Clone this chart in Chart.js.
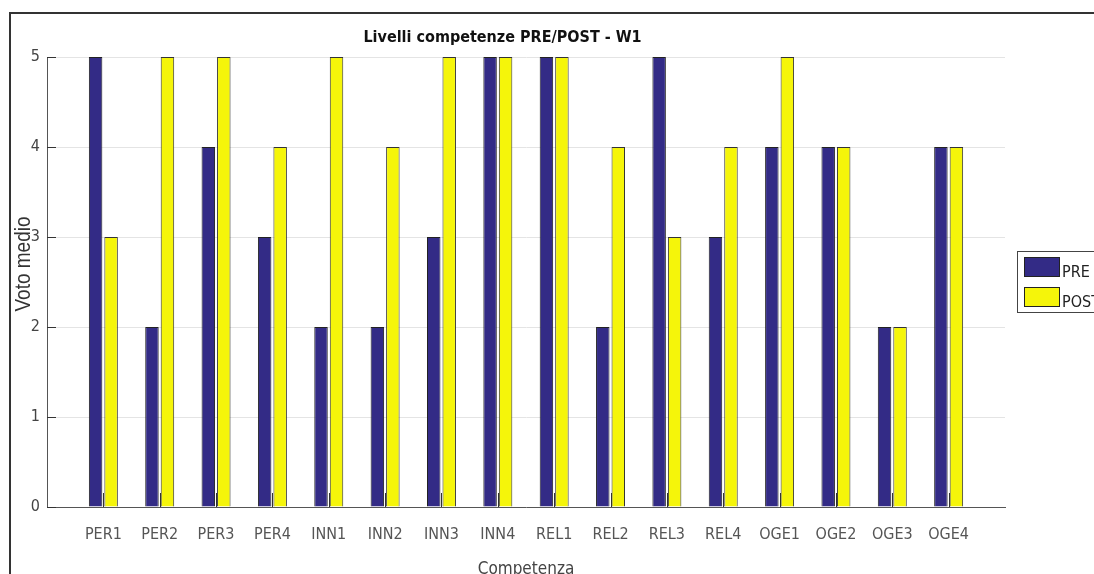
<!DOCTYPE html>
<html>
<head>
<meta charset="utf-8">
<title>Livelli competenze PRE/POST - W1</title>
<script src="https://cdn.jsdelivr.net/npm/chart.js@4.4.1/dist/chart.umd.min.js"></script>
<style>
  html, body { margin: 0; padding: 0; background: #fff; }
  canvas { display: block; }
</style>
</head>
<body>
<canvas id="chart" width="1094" height="574"></canvas>
<script>
// competenze valutate, in ordine sull'asse x
const competenze = ['PER1', 'PER2', 'PER3', 'PER4', 'INN1', 'INN2', 'INN3', 'INN4',
                    'REL1', 'REL2', 'REL3', 'REL4', 'OGE1', 'OGE2', 'OGE3', 'OGE4'];
const votiPre  = [5, 2, 4, 3, 2, 2, 3, 5, 5, 2, 5, 3, 4, 4, 2, 4];
const votiPost = [3, 5, 5, 4, 5, 4, 5, 5, 5, 4, 3, 4, 5, 4, 2, 4];
const yTicks = [0, 1, 2, 3, 4, 5];

const NARROW = "'Liberation Sans Narrow', 'Arial Narrow', 'DejaVu Sans Condensed', sans-serif";
const COL_PRE = '#332b86';
const COL_POST = '#f5f50a';

// assi stile matlab: margine di una categoria vuota a sinistra e a destra
const etichette = [''].concat(competenze, ['']);
const pad = arr => [null].concat(arr, [null]);

const decorazioni = {
  id: 'decorazioni',
  beforeDraw(chart) {
    const ctx = chart.ctx;
    ctx.save();
    ctx.fillStyle = '#fff';
    ctx.fillRect(0, 0, chart.width, chart.height);
    // cornice della figura
    ctx.strokeStyle = '#333';
    ctx.lineWidth = 2;
    ctx.beginPath();
    ctx.moveTo(10, chart.height);
    ctx.lineTo(10, 13);
    ctx.lineTo(chart.width, 13);
    ctx.stroke();
    ctx.restore();
  },
  afterDatasetsDraw(chart) {
    const ctx = chart.ctx;
    const { x, y } = chart.scales;
    const area = chart.chartArea;
    ctx.save();
    ctx.strokeStyle = '#333';
    ctx.lineWidth = 1;
    ctx.beginPath();
    // tacche verso l'interno
    yTicks.forEach(v => {
      const py = Math.round(y.getPixelForValue(v)) + 0.5;
      ctx.moveTo(area.left, py);
      ctx.lineTo(area.left + 9, py);
    });
    competenze.forEach((c, i) => {
      const px = Math.round(x.getPixelForValue(i + 1)) + 0.5;
      ctx.moveTo(px, area.bottom);
      ctx.lineTo(px, area.bottom - 14);
    });
    ctx.stroke();
    ctx.restore();
  },
  afterDraw(chart) {
    const ctx = chart.ctx;
    ctx.save();
    // titolo asse y
    ctx.translate(24, 264);
    ctx.rotate(-Math.PI / 2);
    ctx.scale(1, 1.2);
    ctx.fillStyle = '#333';
    ctx.font = "19px 'Liberation Sans', Arial, sans-serif";
    ctx.textAlign = 'center';
    ctx.textBaseline = 'middle';
    ctx.fillText('Voto medio', 0, 0);
    ctx.restore();

    // legenda
    ctx.save();
    ctx.strokeStyle = '#444';
    ctx.lineWidth = 1;
    ctx.strokeRect(1017.5, 251.5, 100, 61);
    const voci = chart.data.datasets;
    voci.forEach((ds, i) => {
      const top = 257 + i * 30;
      ctx.fillStyle = ds.backgroundColor;
      ctx.fillRect(1024, top, 36, 20);
      ctx.strokeStyle = '#222';
      ctx.strokeRect(1024.5, top + 0.5, 35, 19);
      ctx.fillStyle = '#222';
      ctx.font = '16px ' + NARROW;
      ctx.textAlign = 'left';
      ctx.textBaseline = 'alphabetic';
      ctx.fillText(ds.label, 1062, top + 20);
    });
    ctx.restore();
  }
};

new Chart(document.getElementById('chart'), {
  type: 'bar',
  data: {
    labels: etichette,
    datasets: [
      { label: 'PRE', data: pad(votiPre), backgroundColor: COL_PRE, borderColor: '#222', borderWidth: 1 },
      { label: 'POST', data: pad(votiPost), backgroundColor: COL_POST, borderColor: '#333', borderWidth: 1 }
    ]
  },
  options: {
    responsive: false,
    animation: false,
    categoryPercentage: 0.55,
    barPercentage: 0.87,
    layout: { padding: { left: 0, right: 89, top: 0, bottom: 0 } },
    plugins: {
      legend: { display: false },
      tooltip: { enabled: false },
      title: {
        display: true,
        text: 'Livelli competenze PRE/POST - W1',
        color: '#111',
        font: { family: NARROW, size: 16, weight: 'bold', lineHeight: 1.2 },
        padding: { top: 28, bottom: 9.8 }
      }
    },
    scales: {
      x: {
        offset: false,
        grid: { color: 'rgba(0,0,0,0)', drawTicks: false },
        border: { display: true, color: '#555', width: 1 },
        ticks: {
          autoSkip: false, maxRotation: 0, padding: 18,
          color: '#555',
          font: { family: NARROW, size: 16 }
        },
        title: {
          display: true,
          text: 'Competenza',
          color: '#444',
          font: { family: NARROW, size: 17, lineHeight: 1 },
          padding: { top: 0, bottom: -4 }
        },
        afterFit(scale) { scale.height = 67; }
      },
      y: {
        min: 0, max: 5,
        grid: { color: '#e4e4e4', drawTicks: false },
        border: { display: true, color: '#555', width: 1 },
        ticks: {
          stepSize: 1, padding: 7,
          color: '#444',
          font: { family: NARROW, size: 16 }
        },
        afterFit(scale) { scale.width = 47; }
      }
    }
  },
  plugins: [decorazioni]
});
</script>
</body>
</html>
